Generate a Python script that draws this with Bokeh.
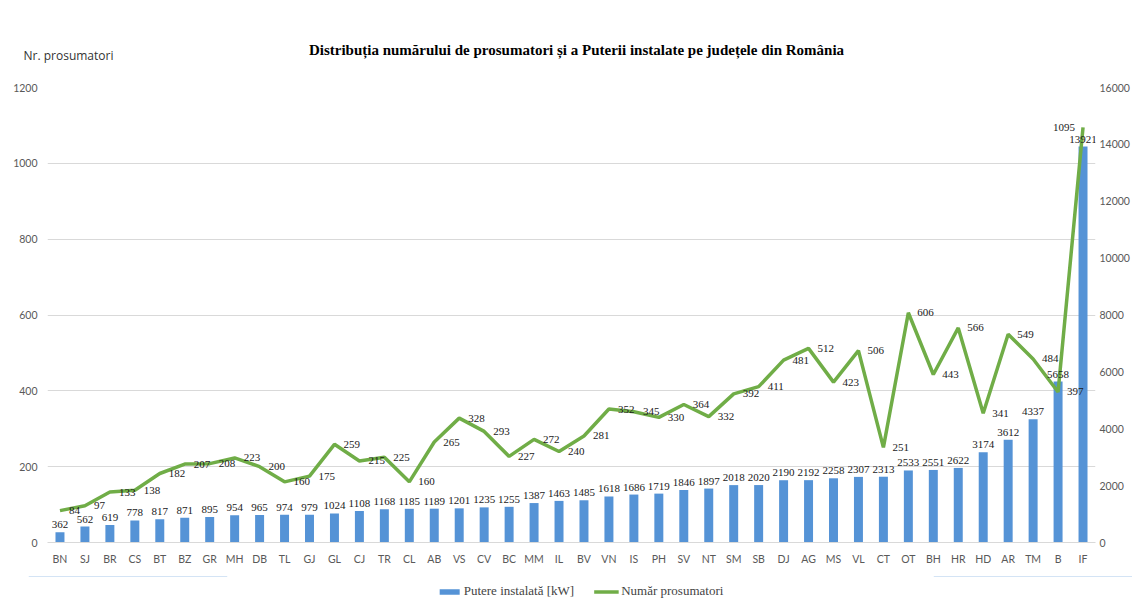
from bokeh.plotting import figure
from bokeh.layouts import column
from bokeh.models import (ColumnDataSource, Range1d, LinearAxis, FixedTicker, Label,
                          LabelSet, Legend, LegendItem, FactorRange)
from bokeh.core.properties import value
from bokeh.embed import file_html
from bokeh.resources import INLINE

# ---------------- data ----------------
counties = ["BN", "SJ", "BR", "CS", "BT", "BZ", "GR", "MH", "DB", "TL", "GJ", "GL", "CJ", "TR",
            "CL", "AB", "VS", "CV", "BC", "MM", "IL", "BV", "VN", "IS", "PH", "SV", "NT", "SM",
            "SB", "DJ", "AG", "MS", "VL", "CT", "OT", "BH", "HR", "HD", "AR", "TM", "B", "IF"]
power_kw = [362, 562, 619, 778, 817, 871, 895, 954, 965, 974, 979, 1024, 1108, 1168,
            1185, 1189, 1201, 1235, 1255, 1387, 1463, 1485, 1618, 1686, 1719, 1846, 1897, 2018,
            2020, 2190, 2192, 2258, 2307, 2313, 2533, 2551, 2622, 3174, 3612, 4337, 5658, 13921]
prosumers = [84, 97, 133, 138, 182, 207, 208, 223, 200, 160, 175, 259, 215, 225,
             160, 265, 328, 293, 227, 272, 240, 281, 352, 345, 330, 364, 332, 392,
             411, 481, 512, 423, 506, 251, 606, 443, 566, 341, 549, 484, 397, 1095]
left_ticks = [0, 200, 400, 600, 800, 1000, 1200]
right_ticks = [0, 2000, 4000, 6000, 8000, 10000, 12000, 14000, 16000]
title_text = "Distribuția numărului de prosumatori și a Puterii instalate pe județele din România"
left_axis_title = "Nr. prosumatori"
bar_name = "Putere instalată [kW]"
line_name = "Număr prosumatori"

# last label would run past the plot edge: put it on the left of its point
last = counties[-1]
src = ColumnDataSource(dict(
    county=counties, power=power_kw, pros=prosumers,
    power_lbl=[str(v) for v in power_kw], pros_lbl=[str(v) for v in prosumers],
    pros_align=["right" if c == last else "left" for c in counties],
    pros_dx=[-8 if c == last else 9 for c in counties]))

SERIF = "Liberation Serif"
GRAY = "#595959"
BAR_COLOR = "#5593d6"
LINE_COLOR = "#70ad47"
W = 1132


def bare(fig):
    fig.outline_line_color = None
    fig.background_fill_color = "white"
    fig.border_fill_color = "white"
    fig.grid.visible = False
    try:
        fig.frame_align = False
    except Exception:
        pass
    return fig


# ---------------- header (titles) ----------------
header = bare(figure(width=W, height=70, x_range=Range1d(0, W), y_range=Range1d(70, 0),
                     x_axis_type=None, y_axis_type=None, output_backend="svg",
                     toolbar_location=None, min_border=0))
header.add_layout(Label(x=576, y=49, text=title_text, text_font=SERIF, text_font_style="bold",
                        text_font_size="15px", text_align="center", text_baseline="middle",
                        text_color="black"))
header.add_layout(Label(x=23, y=55, text=left_axis_title, text_font="Open Sans",
                        text_font_size="12px", text_align="left", text_baseline="middle",
                        text_color="#333333"))

# ---------------- main chart ----------------
p = figure(x_range=FactorRange(*counties), y_range=Range1d(0, 1200),
           width=W, height=506, output_backend="svg", toolbar_location=None,
           min_border_left=47, min_border_right=33, min_border_top=17, min_border_bottom=34)
p.extra_y_ranges = {"power": Range1d(0, 16000)}
p.outline_line_color = None
p.background_fill_color = "white"
p.border_fill_color = "white"

bars = p.vbar(x="county", top="power", width=0.36, y_range_name="power", source=src,
              fill_color=BAR_COLOR, line_color=None)
line = p.line(x="county", y="pros", line_color=LINE_COLOR, line_width=3.5, source=src)

p.yaxis.ticker = FixedTicker(ticks=left_ticks)
p.ygrid.ticker = FixedTicker(ticks=left_ticks)
p.ygrid.grid_line_color = "#d9d9d9"
p.xgrid.visible = False

right_axis = LinearAxis(y_range_name="power", ticker=FixedTicker(ticks=right_ticks))
p.add_layout(right_axis, "right")

for ax in [p.yaxis[0], right_axis]:
    ax.axis_line_color = None
    ax.major_tick_line_color = None
    ax.minor_tick_line_color = None
    ax.major_tick_out = 0
    ax.major_tick_in = 0
    ax.minor_tick_out = 0
    ax.minor_tick_in = 0
    ax.major_label_text_color = GRAY
    ax.major_label_text_font = "Lato"
    ax.major_label_text_font_size = "10.5px"
p.yaxis[0].major_label_standoff = 10
right_axis.major_label_standoff = 4

xa = p.xaxis[0]
xa.axis_line_color = "#d9d9d9"
xa.major_tick_line_color = None
xa.minor_tick_line_color = None
xa.major_label_text_color = GRAY
xa.major_label_text_font = "Lato"
xa.major_label_text_font_size = "10.5px"
xa.major_label_standoff = 4

p.add_layout(LabelSet(x="county", y="power", text="power_lbl", y_range_name="power", source=src,
                      y_offset=4, text_align="center", text_baseline="bottom",
                      text_font=value(SERIF), text_font_size="11px", text_color="#1a1a1a"))
p.add_layout(LabelSet(x="county", y="pros", text="pros_lbl", source=src,
                      x_offset="pros_dx", text_align="pros_align", text_baseline="middle",
                      text_font=value(SERIF), text_font_size="11px", text_color="#1a1a1a"))

# ---------------- footer (legend) ----------------
# the same series are drawn here far outside the visible range, only to feed the legend swatches
footer = bare(figure(width=W, height=30, x_range=Range1d(0, 1), y_range=Range1d(-2, -1),
                     x_axis_type=None, y_axis_type=None, output_backend="svg",
                     toolbar_location=None, min_border=0, min_border_left=28))
idx = list(range(len(counties)))
lg_bar = footer.vbar(x=idx, top=power_kw, width=0.36, fill_color=BAR_COLOR, line_color=None)
lg_line = footer.line(x=idx, y=prosumers, line_color=LINE_COLOR, line_width=3.5)
legend = Legend(items=[LegendItem(label=bar_name, renderers=[lg_bar]),
                       LegendItem(label=line_name, renderers=[lg_line])],
                orientation="horizontal", location="center",
                label_text_font=SERIF, label_text_font_size="13px",
                glyph_width=25, glyph_height=7, label_height=14, spacing=20,
                padding=0, margin=0, label_standoff=2,
                border_line_color=None, background_fill_alpha=0)
footer.add_layout(legend)

layout = column(header, p, footer, spacing=0)
open("out.html", "w").write(file_html(layout, INLINE))
